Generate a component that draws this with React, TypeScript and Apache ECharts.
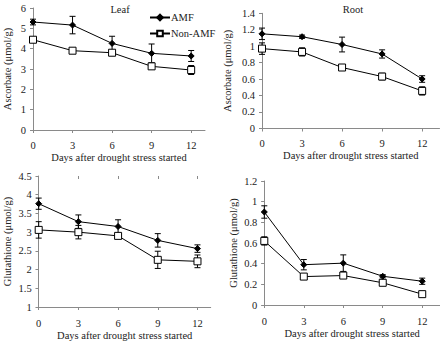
import React, { useEffect, useRef } from "react";
import * as echarts from "echarts";

const days = [0, 3, 6, 9, 12];

const leafAscAMF = [5.31, 5.16, 4.26, 3.77, 3.64];
const leafAscAMFErr = [0.14, 0.43, 0.35, 0.46, 0.27];
const leafAscNon = [4.44, 3.9, 3.8, 3.13, 2.95];
const leafAscNonErr = [0.12, 0.05, 0.05, 0.11, 0.22];

const rootAscAMF = [1.15, 1.115, 1.02, 0.905, 0.6];
const rootAscAMFErr = [0.07, 0.02, 0.09, 0.05, 0.04];
const rootAscNon = [0.97, 0.93, 0.74, 0.63, 0.455];
const rootAscNonErr = [0.07, 0.05, 0.02, 0.04, 0.05];

const leafGshAMF = [3.76, 3.28, 3.15, 2.78, 2.56];
const leafGshAMFErr = [0.15, 0.18, 0.18, 0.18, 0.1];
const leafGshNon = [3.06, 3.0, 2.9, 2.26, 2.22];
const leafGshNonErr = [0.22, 0.18, 0.03, 0.23, 0.17];

const rootGshAMF = [0.9, 0.39, 0.405, 0.278, 0.23];
const rootGshAMFErr = [0.06, 0.05, 0.08, 0.015, 0.03];
const rootGshNon = [0.62, 0.275, 0.285, 0.215, 0.105];
const rootGshNonErr = [0.04, 0.01, 0.01, 0.01, 0.01];

const xName = "Days after drought stress started";
const FONT = "Liberation Serif";
const TXT = "#222";
const AX = "#8a8a8a";

type Panel = {
  grid: { left: number; top: number; width: number; height: number };
  xMax: number;
  yMin: number;
  yMax: number;
  yInt: number;
  yName: string;
  yNameGap: number;
  xNameGap: number;
  xLabelMargin: number;
  amf: number[];
  amfErr: number[];
  non: number[];
  nonErr: number[];
};

const panels: Panel[] = [
  {
    grid: { left: 33, top: 8, width: 172, height: 122 },
    xMax: 13.05, yMin: 0, yMax: 6, yInt: 1,
    yName: "Ascorbate (μmol/g)", yNameGap: 20, xNameGap: 20, xLabelMargin: 10,
    amf: leafAscAMF, amfErr: leafAscAMFErr, non: leafAscNon, nonErr: leafAscNonErr,
  },
  {
    grid: { left: 262, top: 13.3, width: 177.5, height: 115 },
    xMax: 13.3, yMin: 0, yMax: 1.4, yInt: 0.2,
    yName: "Ascorbate (μmol/g)", yNameGap: 29, xNameGap: 22, xLabelMargin: 10,
    amf: rootAscAMF, amfErr: rootAscAMFErr, non: rootAscNon, nonErr: rootAscNonErr,
  },
  {
    grid: { left: 38.7, top: 176, width: 172, height: 131 },
    xMax: 13.0, yMin: 1, yMax: 4.5, yInt: 0.5,
    yName: "Glutathione (μmol/g)", yNameGap: 26, xNameGap: 21, xLabelMargin: 11,
    amf: leafGshAMF, amfErr: leafGshAMFErr, non: leafGshNon, nonErr: leafGshNonErr,
  },
  {
    grid: { left: 264.3, top: 181, width: 175.7, height: 124 },
    xMax: 13.35, yMin: 0, yMax: 1.2, yInt: 0.2,
    yName: "Glutathione (μmol/g)", yNameGap: 25, xNameGap: 23, xLabelMargin: 11,
    amf: rootGshAMF, amfErr: rootGshAMFErr, non: rootGshNon, nonErr: rootGshNonErr,
  },
];

const textBase = { fontFamily: FONT, color: TXT, fontSize: 10.5 };

function errorBarSeries(gi: number, vals: number[], errs: number[]) {
  return {
    type: "custom",
    xAxisIndex: gi * 2,
    yAxisIndex: gi * 2,
    z: 1,
    silent: true,
    data: days.map((d, i) => [d, vals[i] - errs[i], vals[i] + errs[i]]),
    renderItem: (_params: any, api: any) => {
      const lo = api.coord([api.value(0), api.value(1)]);
      const hi = api.coord([api.value(0), api.value(2)]);
      const w = 3;
      const style = { stroke: "#000", lineWidth: 1 };
      return {
        type: "group",
        children: [
          { type: "line", shape: { x1: lo[0], y1: lo[1], x2: hi[0], y2: hi[1] }, style },
          { type: "line", shape: { x1: lo[0] - w, y1: lo[1], x2: lo[0] + w, y2: lo[1] }, style },
          { type: "line", shape: { x1: hi[0] - w, y1: hi[1], x2: hi[0] + w, y2: hi[1] }, style },
        ],
      };
    },
  };
}

export default function App() {
  const ref = useRef<HTMLDivElement>(null);

  useEffect(() => {
    if (!ref.current) return;
    const chart = echarts.init(ref.current, undefined, { renderer: "svg" });

    const grids: any[] = [];
    const xAxes: any[] = [];
    const yAxes: any[] = [];
    const series: any[] = [];

    panels.forEach((p, gi) => {
      grids.push({ ...p.grid, containLabel: false });
      const xCommon = {
        type: "value",
        gridIndex: gi,
        min: 0,
        max: p.xMax,
        interval: 3,
        splitLine: { show: false },
      };
      // main x axis: line, labels, outward ticks
      xAxes.push({
        ...xCommon,
        axisLine: { show: true, lineStyle: { color: AX, width: 1 } },
        axisTick: { show: true, length: 3, customValues: days, lineStyle: { color: AX } },
        axisLabel: { ...textBase, margin: p.xLabelMargin, customValues: days },
        name: xName,
        nameLocation: "middle",
        nameGap: p.xNameGap,
        nameTextStyle: { ...textBase },
      });
      // companion x axis: inward half of the crossing ticks
      xAxes.push({
        ...xCommon,
        axisLine: { show: false },
        axisTick: { show: true, inside: true, length: 3, customValues: days, lineStyle: { color: AX } },
        axisLabel: { show: false },
      });
      const yCommon = {
        type: "value",
        gridIndex: gi,
        min: p.yMin,
        max: p.yMax,
        interval: p.yInt,
        splitLine: { show: false },
      };
      yAxes.push({
        ...yCommon,
        axisLine: { show: true, lineStyle: { color: AX, width: 1 } },
        axisTick: { show: true, length: 3, lineStyle: { color: AX } },
        axisLabel: { ...textBase, margin: 7 },
        name: p.yName,
        nameLocation: "middle",
        nameGap: p.yNameGap,
        nameTextStyle: { ...textBase },
      });
      yAxes.push({
        ...yCommon,
        axisLine: { show: false },
        axisTick: { show: true, inside: true, length: 3, lineStyle: { color: AX } },
        axisLabel: { show: false },
      });

      series.push(errorBarSeries(gi, p.amf, p.amfErr));
      series.push(errorBarSeries(gi, p.non, p.nonErr));
      series.push({
        type: "line",
        name: "Non-AMF",
        xAxisIndex: gi * 2,
        yAxisIndex: gi * 2,
        z: 3,
        data: days.map((d, i) => [d, p.non[i]]),
        symbol: "rect",
        symbolSize: 7,
        lineStyle: { color: "#000", width: 1 },
        itemStyle: { color: "#fff", borderColor: "#000", borderWidth: 1 },
      });
      series.push({
        type: "line",
        name: "AMF",
        xAxisIndex: gi * 2,
        yAxisIndex: gi * 2,
        z: 4,
        data: days.map((d, i) => [d, p.amf[i]]),
        symbol: "diamond",
        symbolSize: 6,
        lineStyle: { color: "#000", width: 1 },
        itemStyle: { color: "#000", borderColor: "#000", borderWidth: 1 },
      });
    });

    chart.setOption({
      animation: false,
      backgroundColor: "#fff",
      title: [
        { text: "Leaf", left: 115, top: -1, textAlign: "center", textStyle: { ...textBase, fontWeight: "normal" } },
        { text: "Root", left: 348, top: -1, textAlign: "center", textStyle: { ...textBase, fontWeight: "normal" } },
      ],
      legend: {
        data: ["AMF", "Non-AMF"],
        orient: "vertical",
        left: 144,
        top: 7,
        itemGap: 5,
        itemWidth: 20,
        itemHeight: 7,
        textStyle: { ...textBase, padding: [0, 0, 0, -4] },
        selectedMode: false,
      },
      grid: grids,
      xAxis: xAxes,
      yAxis: yAxes,
      series,
    });

    return () => chart.dispose();
  }, []);

  return (
    <div
      ref={ref}
      style={{ position: "fixed", left: 0, top: 0, width: 440, height: 342, background: "#fff" }}
    />
  );
}
